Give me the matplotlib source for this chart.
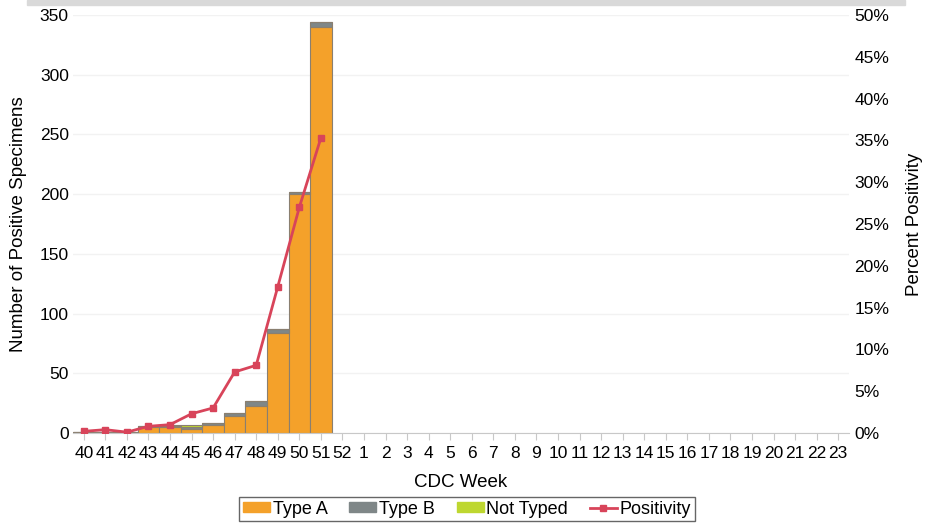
import matplotlib.pyplot as plt
import matplotlib.patches as mpatches
from matplotlib.lines import Line2D
import numpy as np

plt.rcParams['font.family'] = ['Liberation Sans', 'DejaVu Sans']

weeks = [str(w) for w in range(40, 53)] + [str(w) for w in range(1, 24)]
type_a = [1, 1, 0, 5, 5, 3, 7, 14, 23, 84, 200, 340]
type_b = [0, 0, 1, 1, 1, 2, 1, 3, 4, 3, 2, 4]
not_typed = [0, 0, 0, 0, 1, 2, 0, 0, 0, 0, 0, 0]
positivity = [0.2, 0.4, 0.1, 0.8, 1.0, 2.3, 3.0, 7.3, 8.1, 17.5, 27.0, 35.3]

c_a = '#F4A12A'
c_b = '#7F8788'
c_nt = '#BED730'
c_pos = '#D8445A'

fig = plt.figure(figsize=(9.35, 5.23), dpi=100)
ax = fig.add_axes([73 / 935, 1 - 433 / 523, 776 / 935, 418 / 523])

# gray strip across top
fig.patches.append(mpatches.Rectangle((27 / 935, 1 - 5 / 523), 878 / 935, 5 / 523,
                                      transform=fig.transFigure, color='#d9d9d9', zorder=0))

x = np.arange(len(type_a))
a = np.array(type_a)
b = np.array(type_b)
nt = np.array(not_typed)
kw = dict(width=1.0, edgecolor='#8a7f70', linewidth=0.8, zorder=2)
ax.bar(x, a, color=c_a, **kw)
ax.bar(x, b, bottom=a, color=c_b, **kw)
ax.bar(x, nt, bottom=a + b, color=c_nt, **kw)

ax.set_xlim(-0.5, len(weeks) - 0.5)
ax.set_ylim(0, 350)
ax.set_yticks(range(0, 351, 50))
ax.set_xticks(range(len(weeks)))
ax.set_xticklabels(weeks)
ax.grid(axis='y', color='#f2f2f2', linewidth=1, zorder=0)
ax.set_axisbelow(True)
for s in ['top', 'left', 'right']:
    ax.spines[s].set_visible(False)
ax.spines['bottom'].set_color('#c8c8c8')
ax.tick_params(axis='x', length=5, color='#c8c8c8', labelsize=12.5, pad=4)
ax.tick_params(axis='y', length=0, labelsize=12.5, pad=3)
ax.set_xlabel('CDC Week', fontsize=13.5, labelpad=10)
ax.set_ylabel('Number of Positive Specimens', fontsize=13.5, labelpad=9)

ax2 = ax.twinx()
ax2.plot(x, positivity, color=c_pos, linewidth=2, marker='s', markersize=5, zorder=4)
ax2.set_ylim(0, 50)
ax2.set_yticks(range(0, 51, 5))
ax2.set_yticklabels([f'{v}%' for v in range(0, 51, 5)])
for s in ['top', 'left', 'right', 'bottom']:
    ax2.spines[s].set_visible(False)
ax2.tick_params(axis='y', length=0, labelsize=12.5, pad=4)
ax2.set_ylabel('Percent Positivity', fontsize=13.5, labelpad=12)

handles = [mpatches.Patch(color=c_a, label='Type A'),
           mpatches.Patch(color=c_b, label='Type B'),
           mpatches.Patch(color=c_nt, label='Not Typed'),
           Line2D([], [], color=c_pos, linewidth=2, marker='s', markersize=5, label='Positivity')]
leg = fig.legend(handles=handles, loc='center', bbox_to_anchor=(467 / 935, 1 - 509 / 523),
                 ncol=4, fontsize=13, frameon=True, fancybox=False, edgecolor='#404040',
                 borderpad=0.2, handlelength=1.5, handleheight=0.5, columnspacing=1.2,
                 handletextpad=0.15, borderaxespad=0)
leg.get_frame().set_linewidth(1)

fig.savefig('out.png', dpi=100)
